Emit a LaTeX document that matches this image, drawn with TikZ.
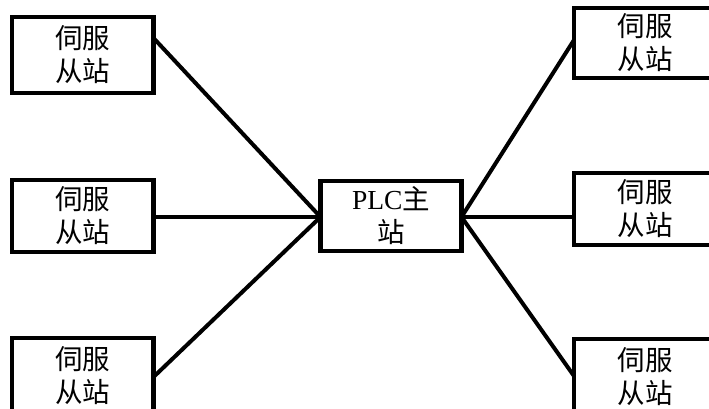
\documentclass[tikz,border=0pt]{standalone}
\usepackage{fontspec}
\setmainfont{Liberation Serif}
\newfontfamily\cjk{Noto Sans CJK SC}
\begin{document}
\begin{tikzpicture}[x=1pt,y=-1pt,
  station/.style={draw=black,line width=4.5pt,rectangle,outer sep=0pt,inner sep=0pt,
     align=center,font=\fontsize{27.5}{33}\selectfont\cjk},
  link/.style={line width=4pt}]
\useasboundingbox (0,0) rectangle (709,408);
\clip (0,0) rectangle (709,408);
% left column
\node[station,minimum width=141.5pt,minimum height=76pt] (lt) at (82.75,55) {伺服\\从站};
\node[station,minimum width=141.5pt,minimum height=72pt] (lm) at (82.75,216) {伺服\\从站};
\node[station,minimum width=141.5pt,minimum height=76pt] (lb) at (82.75,376) {伺服\\从站};
% center
\node[station,minimum width=141pt,minimum height=70pt] (plc) at (391,216) {{\fontspec{Liberation Serif}PLC}主\\站};
% right column
\node[station,minimum width=142pt,minimum height=70pt] (rt) at (645,43) {伺服\\从站};
\node[station,minimum width=142pt,minimum height=72pt] (rm) at (645,209) {伺服\\从站};
\node[station,minimum width=142pt,minimum height=76pt] (rb) at (645,377) {伺服\\从站};
% connector ends
\coordinate (lte) at ([yshift=-21pt]lt.north east);
\coordinate (lbe) at ([yshift=-39pt]lb.north east);
\coordinate (rtw) at ([yshift=-32pt]rt.north west);
\coordinate (rmw) at ([yshift=-8pt]rm.west);
\coordinate (rbw) at ([yshift=-37pt]rb.north west);
\coordinate (pw) at ([yshift=-1pt]plc.west);
\coordinate (pe) at ([yshift=-1pt]plc.east);
\draw[link] (lte) -- (pw);
\draw[link] (lm.east |- pw) -- (pw);
\draw[link] (lbe) -- (pw);
\draw[link] (pe) -- (rtw);
\draw[link] (pe) -- (rmw);
\draw[link] (pe) -- (rbw);
\end{tikzpicture}
\end{document}
